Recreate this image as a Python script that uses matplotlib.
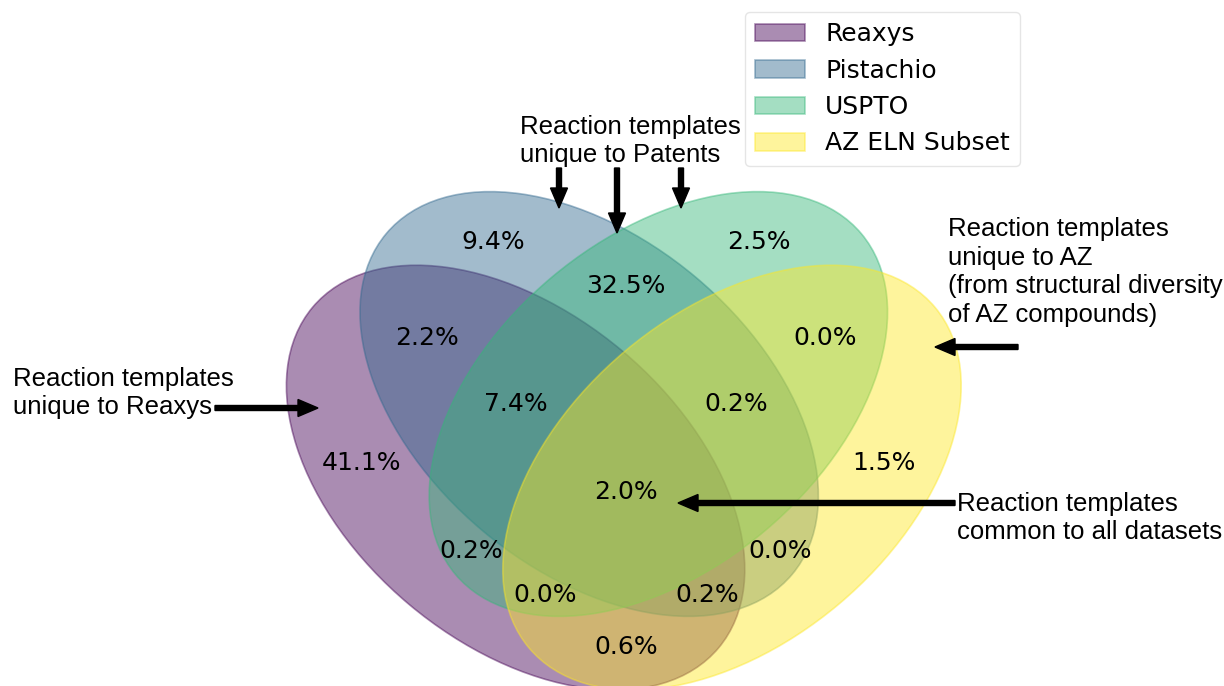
import matplotlib
matplotlib.use("Agg")
import matplotlib.pyplot as plt
from matplotlib import patches
import numpy as np

# ---- data ----
set_names = ['Reaxys', 'Pistachio', 'USPTO', 'AZ ELN Subset']
region_keys = ['1000', '0100', '0010', '0001', '1100', '1010', '1001', '0110',
               '0101', '0011', '1110', '1101', '1011', '0111', '1111']
region_pct = [41.1, 9.4, 2.5, 1.5, 2.2, 0.2, 0.6, 32.5,
              0.0, 0.0, 7.4, 0.2, 0.0, 0.2, 2.0]

# ---- layout (pyvenn-style venn4 geometry) ----
ellipses = [(0.350, 0.400, 140.0), (0.450, 0.500, 140.0),
            (0.544, 0.500, 40.0), (0.644, 0.400, 40.0)]
text_pos = {'0001': (0.85, 0.42), '0010': (0.68, 0.72), '0011': (0.77, 0.59),
            '0100': (0.32, 0.72), '0101': (0.71, 0.30), '0110': (0.50, 0.66),
            '0111': (0.65, 0.50), '1000': (0.14, 0.42), '1001': (0.50, 0.17),
            '1010': (0.29, 0.30), '1011': (0.39, 0.24), '1100': (0.23, 0.59),
            '1101': (0.61, 0.24), '1110': (0.35, 0.50), '1111': (0.50, 0.38)}

W, H = 1224, 686
fig = plt.figure(figsize=(W / 100, H / 100), dpi=100)
scale = 736.0
cx, y0 = 626.0, 772.0
ax = fig.add_axes([(cx - scale / 2) / W, (H - y0) / H, scale / W, scale / H])
ax.set_xlim(0, 1)
ax.set_ylim(0, 1)
ax.set_aspect('equal')
ax.axis('off')

cmap = plt.cm.viridis
colors = [cmap(v) for v in np.linspace(0, 1, 4)]
handles = []
for (x, y, ang), c in zip(ellipses, colors):
    rgba = (c[0], c[1], c[2], 0.45)
    e = patches.Ellipse(xy=(x, y), width=0.72, height=0.45, angle=ang,
                        color=rgba, lw=1.2)
    ax.add_patch(e)
    handles.append(e)

for k, v in zip(region_keys, region_pct):
    px, py = text_pos[k]
    ax.text(px, py, f"{v:.1f}%", ha='center', va='center', fontsize=18,
            color='black')

leg = fig.legend(handles, set_names, loc='upper right',
                 bbox_to_anchor=(1020 / W, 1 - 12 / H),
                 bbox_transform=fig.transFigure, borderaxespad=0,
                 fontsize=18, fancybox=True)
leg.get_frame().set_alpha(0.5)

# ---- annotation overlay in pixel coordinates ----
ov = fig.add_axes([0, 0, 1, 1])
ov.set_xlim(0, W)
ov.set_ylim(H, 0)
ov.axis('off')
ov.patch.set_alpha(0)

tfont = dict(family='Liberation Sans', fontsize=18.5, color='black',
             linespacing=1.25)

ov.text(13, 393, "Reaction templates\nunique to Reaxys", ha='left',
        va='center', **tfont)
ov.text(520, 141, "Reaction templates\nunique to Patents", ha='left',
        va='center', **tfont)
ov.text(948, 272, "Reaction templates\nunique to AZ\n(from structural diversity\nof AZ compounds)",
        ha='left', va='center', **tfont)
ov.text(957, 518, "Reaction templates\ncommon to all datasets", ha='left',
        va='center', **tfont)

akw = dict(width=5, head_width=17, head_length=20, length_includes_head=True,
           color='black')
ov.arrow(215, 408, 103, 0, **akw)
ov.arrow(559, 168, 0, 40, **akw)
ov.arrow(617, 168, 0, 65, **akw)
ov.arrow(681, 168, 0, 40, **akw)
ov.arrow(1018, 347, -83, 0, **akw)
ov.arrow(955, 503, -277, 0, **akw)

fig.savefig("out.png", dpi=100)
